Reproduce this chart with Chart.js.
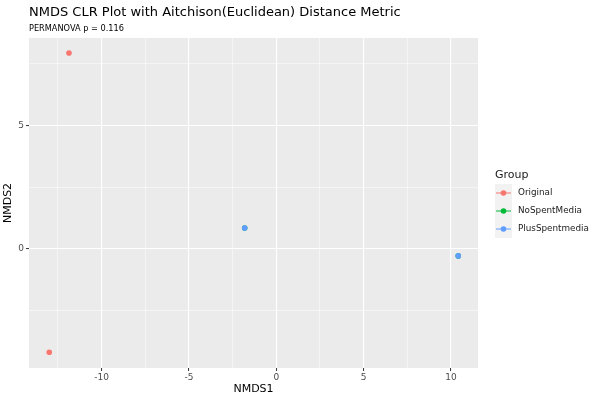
<!DOCTYPE html>
<html>
<head>
<meta charset="utf-8">
<script src="https://cdn.jsdelivr.net/npm/chart.js@4"></script>
<style>
  html, body { margin: 0; padding: 0; background: #fff; }
  #wrap { width: 600px; height: 400px; }
</style>
</head>
<body>
<div id="wrap"><canvas id="nmds"></canvas></div>
<script>
const groups = ['Original', 'NoSpentMedia', 'PlusSpentmedia'];
const colors = ['#F8766D', '#00BA38', '#619CFF'];
const originalPts = [{x: -11.87, y: 7.94}, {x: -13.0, y: -4.18}];
const noSpentPts = [{x: -1.81, y: 0.85}, {x: 10.42, y: -0.28}];
const plusSpentPts = [{x: -1.81, y: 0.85}, {x: 10.42, y: -0.28}];
const xTicks = [-12.5, -10, -7.5, -5, -2.5, 0, 2.5, 5, 7.5, 10];
const yTicks = [-2.5, 0, 2.5, 5, 7.5];

const font = 'DejaVu Sans';
const isMajor = v => Math.abs(v % 5) < 1e-9;

// ggplot-ish legend on the right
const groupLegend = {
  id: 'groupLegend',
  afterDraw(chart) {
    const c = chart.ctx;
    c.save();
    c.fillStyle = '#1a1a1a';
    c.font = '11px ' + font;
    c.textBaseline = 'middle';
    c.fillText('Group', 495, 175);
    groups.forEach((g, i) => {
      const cy = 193 + i * 18;
      c.fillStyle = '#f2f2f2';
      c.fillRect(495, cy - 9, 17, 18);
      c.strokeStyle = colors[i];
      c.lineWidth = 1;
      c.beginPath();
      c.moveTo(496, cy);
      c.lineTo(511, cy);
      c.stroke();
      c.fillStyle = colors[i];
      c.beginPath();
      c.arc(503.5, cy, 2.8, 0, Math.PI * 2);
      c.fill();
      c.fillStyle = '#1a1a1a';
      c.font = '8.8px ' + font;
      c.fillText(g, 518, cy);
    });
    c.restore();
  }
};

const panelBg = {
  id: 'panelBg',
  beforeDraw(chart) {
    const a = chart.chartArea;
    chart.ctx.save();
    chart.ctx.fillStyle = '#ebebeb';
    chart.ctx.fillRect(a.left, a.top, a.right - a.left, a.bottom - a.top);
    chart.ctx.restore();
  }
};

const gridOpts = {
  color: '#ffffff',
  lineWidth: ctx => ctx.tick && isMajor(ctx.tick.value) ? 1.1 : 0.5,
  tickColor: ctx => ctx.tick && isMajor(ctx.tick.value) ? '#333333' : 'rgba(0,0,0,0)',
  tickWidth: 1,
  tickLength: 3,
  drawTicks: true
};

new Chart(document.getElementById('nmds'), {
  type: 'scatter',
  data: {
    datasets: [
      {label: groups[2], data: plusSpentPts, backgroundColor: colors[2], borderColor: colors[2], order: 0},
      {label: groups[1], data: noSpentPts, backgroundColor: colors[1], borderColor: colors[1], order: 1},
      {label: groups[0], data: originalPts, backgroundColor: colors[0], borderColor: colors[0], order: 2}
    ]
  },
  options: {
    responsive: true,
    maintainAspectRatio: false,
    animation: false,
    layout: {padding: {top: 0, right: 122, bottom: 0, left: 0}},
    elements: {point: {radius: 2.8, borderWidth: 0, hoverRadius: 3}},
    plugins: {
      legend: {display: false},
      tooltip: {enabled: false},
      title: {
        display: true,
        text: 'NMDS CLR Plot with Aitchison(Euclidean) Distance Metric',
        align: 'start',
        fullSize: false,
        color: '#000000',
        font: {family: font, size: 13, weight: 'normal'},
        padding: {top: 5, bottom: 3}
      },
      subtitle: {
        display: true,
        text: 'PERMANOVA p = 0.116',
        align: 'start',
        fullSize: false,
        color: '#000000',
        font: {family: font, size: 8.2},
        padding: {top: 0, bottom: 4.5}
      }
    },
    scales: {
      x: {
        type: 'linear',
        min: -14.16,
        max: 11.55,
        border: {display: false},
        grid: gridOpts,
        afterBuildTicks: s => { s.ticks = xTicks.map(v => ({value: v})); },
        afterFit: s => { s.height = 32; },
        ticks: {
          color: '#4d4d4d',
          font: {family: font, size: 9},
          padding: 1,
          maxRotation: 0,
          callback: v => isMajor(v) ? String(v) : ''
        },
        title: {
          display: true,
          text: 'NMDS1',
          color: '#000000',
          font: {family: font, size: 11},
          padding: {top: 0, bottom: 4}
        }
      },
      y: {
        type: 'linear',
        min: -4.82,
        max: 8.55,
        border: {display: false},
        grid: gridOpts,
        afterBuildTicks: s => { s.ticks = yTicks.map(v => ({value: v})); },
        afterFit: s => { s.width = 29; },
        ticks: {
          color: '#4d4d4d',
          font: {family: font, size: 9},
          padding: 2,
          callback: v => isMajor(v) ? String(v) : ''
        },
        title: {
          display: true,
          text: 'NMDS2',
          color: '#000000',
          font: {family: font, size: 11},
          padding: {top: 2, bottom: 0}
        }
      }
    }
  },
  plugins: [panelBg, groupLegend]
});
</script>
</body>
</html>
